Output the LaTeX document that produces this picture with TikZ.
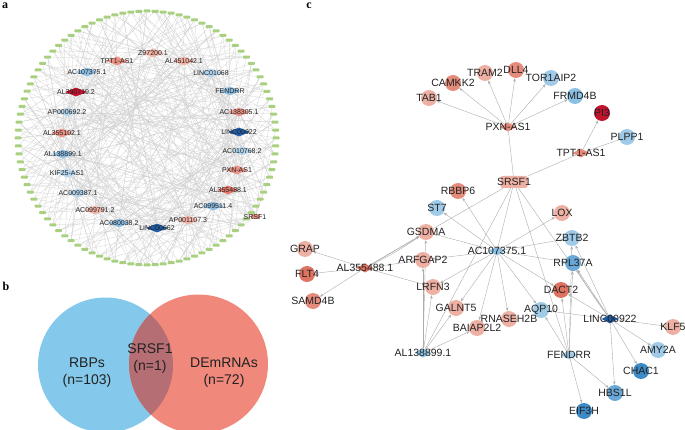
\documentclass[tikz,border=0pt]{standalone}
\usepackage{fontspec}
\setmainfont{Liberation Sans}
\newfontfamily\panelfont{Liberation Serif}
\usetikzlibrary{shapes.geometric,arrows.meta,backgrounds}
\definecolor{ringgreen}{HTML}{A8D080}
\definecolor{aSalL}{HTML}{F3B3A6}
\definecolor{aSal}{HTML}{EC9485}
\definecolor{aSalD}{HTML}{E57A68}
\definecolor{aRed}{HTML}{C8102E}
\definecolor{aBlueL}{HTML}{B3D5EE}
\definecolor{aBlue}{HTML}{8DBFE4}
\definecolor{aBlueD}{HTML}{1F5DA8}
\definecolor{vblue}{HTML}{84C9EB}
\definecolor{vred}{HTML}{F0887C}
\definecolor{vmix}{HTML}{B56E73}
\definecolor{cSalL}{HTML}{EFB0A4}
\definecolor{cSal}{HTML}{E58B7B}
\definecolor{cSalD}{HTML}{DF7361}
\definecolor{cRed}{HTML}{C0132C}
\definecolor{cBlueL}{HTML}{A0CBE8}
\definecolor{cBlue}{HTML}{8CC0E4}
\definecolor{cBlueM}{HTML}{69A8D7}
\definecolor{cBlueN}{HTML}{3E8AC4}
\definecolor{cBlueD}{HTML}{1E5AA0}
\definecolor{txt}{HTML}{222222}
\begin{document}
\begin{tikzpicture}[x=1pt,y=-1pt,
  ring/.style={rectangle, rounded corners=0.8pt, fill=ringgreen, minimum width=7pt, minimum height=3pt, inner sep=0pt},
  adia/.style={diamond, inner sep=0pt, minimum width=22pt, minimum height=9pt},
  alab/.style={font=\fontsize{7}{8}\selectfont, text=txt, inner sep=0pt},
  aedge/.style={draw=gray!38, line width=0.25pt},
  cnode/.style={circle, inner sep=0pt, minimum size=16pt},
  cdia/.style={diamond, inner sep=0pt, minimum width=17pt, minimum height=9pt},
  clab/.style={font=\fontsize{10.5}{12}\selectfont, text=txt, inner sep=0pt},
  cline/.style={draw=gray!65, line width=0.4pt},
  cedge/.style={cline, -{Stealth[length=3.5pt,width=2.6pt]}},
  vlab/.style={font=\fontsize{14}{17}\selectfont, text=txt, align=center, inner sep=0pt},
  panel/.style={font=\panelfont\bfseries\fontsize{12}{12}\selectfont, inner sep=0pt}
]
\useasboundingbox (0,0) rectangle (685,430);

% ---------------- panel a ----------------
\node[panel] (pa) at (5,6) {a};
\foreach \i in {1,...,100}{
  \node[ring] (o\i) at ({147+129*cos(3.6*\i)},{138+127*sin(3.6*\i)}) {};
}
\foreach [count=\c] \x/\y/\col/\txt in {
  117/61/aSal/TPT1-AS1, 153/53/aSalL/Z97200.1, 184/61/aSalL/AL451042.1,
  211/73/aBlueL/LINC01068, 230/91/aBlue/FENDRR, 239/112/aSal/AC138305.1,
  239/132/aBlueD/LINC00922, 242/151/aBlueL/AC010768.2, 237/170/aSal/PXN-AS1,
  228/190/aSalD/AL355488.1, 213/206/aBlue/AC099511.4, 188/220/aSalL/AP001107.3,
  157/228/aBlueD/LINC00662, 119/223/aBlue/AC080038.2, 95/210/aSalL/AC099791.2,
  78/193/aBlueL/AC009387.1, 67/173/aBlueL/KIF25-AS1, 63/154/aBlue/AL138899.1,
  62/133/aSal/AL355102.1, 67/112/aBlueL/AP000692.2, 76/92/aRed/AL390719.2,
  87/72/aBlue/AC107375.1}{
  \node[adia, fill=\col] (n\c) at (\x,\y) {};
  \node[alab] (nl\c) at (\x,\y) {\txt};
}
\node[rectangle, fill=aSal, minimum width=9pt, minimum height=5pt, inner sep=0pt] (n23) at (255,217) {};
\node[alab] (nl23) at (255,217) {SRSF1};
\begin{scope}[on background layer]
  \foreach \i in {1,...,100}{
    \foreach \k in {0,1,2,3}{
      \pgfmathtruncatemacro{\j}{mod(\i*7+\k*8+3*\k*\k+\k*\i,23)+1}
      \draw[aedge] (o\i) -- (n\j);
    }
  }
  \foreach \p/\q in {1/9,1/13,22/7,22/11,5/18,5/14,21/6,21/10,19/4,20/8,2/16,3/15,12/1,17/3}{
    \draw[aedge] (n\p) -- (n\q);
  }
\end{scope}

% ---------------- panel b ----------------
\node[panel] (pb) at (6,286) {b};
\node[circle, fill=vblue, minimum size=135pt, inner sep=0pt] (rbp) at (105.5,365) {};
\node[circle, fill=vred, minimum size=139pt, inner sep=0pt] (dem) at (198.5,364) {};
\begin{scope}
  \clip (105.5,365) circle[radius=67.5];
  \fill[vmix] (198.5,364) circle[radius=69.5];
\end{scope}
\node[vlab] (vl1) at (87,373) {RBPs\\(n=103)};
\node[vlab] (vl2) at (150,359) {SRSF1\\(n=1)};
\node[vlab] (vl3) at (224,373) {DEmRNAs\\(n=72)};

% ---------------- panel c ----------------
\node[panel] (pc) at (309,6) {c};
\foreach \nm/\x/\y/\col/\txt in {
  tab1/429/98/cSalL/TAB1, camkk2/453/83/cSal/CAMKK2, tram2/485/73/cSalL/TRAM2,
  dll4/516/70/cSal/DLL4, tor1aip2/551/78/cBlueL/TOR1AIP2, frmd4b/575/96/cBlue/FRMD4B,
  pi3/602/113/cRed/PI3, plpp1/627/137/cBlueL/PLPP1, rbbp6/458/191/cSal/RBBP6,
  st7/437/208/cBlueL/ST7, lox/562/213/cSalL/LOX, gsdma/426/232/cSalL/GSDMA,
  zbtb2/572/238/cBlueL/ZBTB2, grap/305/249/cSalL/GRAP, arfgap2/423/260/cSalL/ARFGAP2,
  rpl37a/573/263/cBlueM/RPL37A, flt4/307/274/cSalD/FLT4, lrfn3/433/287/cSalL/LRFN3,
  dact2/561/290/cSalD/DACT2, samd4b/313/301/cSal/SAMD4B, galnt5/456/308/cSalL/GALNT5,
  aqp10/541/310/cBlueL/AQP10, rnaseh2b/509/319/cSalL/RNASEH2B, klf5/673/327/cSalL/KLF5,
  baiap2l2/477/328/cSalL/BAIAP2L2, amy2a/658/350/cBlueL/AMY2A, chac1/641/371/cBlueN/CHAC1,
  hbs1l/615/393/cBlueM/HBS1L, eif3h/584/411/cBlueN/EIF3H}{
  \node[cnode, fill=\col] (\nm) at (\x,\y) {};
  \node[clab] (\nm-l) at (\x,\y) {\txt};
}
\foreach \nm/\x/\y/\col/\txt in {
  pxn/508/127/cSal/PXN-AS1, tpt/581/153/cSal/TPT1-AS1, ac107/497/251/cBlue/AC107375.1,
  al3554/365/268/cSalD/AL355488.1, al1388/423/353/cBlue/AL138899.1,
  fendrr/569/355/cBlueL/FENDRR, linc922/610/319/cBlueD/LINC00922}{
  \node[cdia, fill=\col] (\nm) at (\x,\y) {};
  \node[clab] (\nm-l) at (\x,\y) {\txt};
}
\node[rectangle, rounded corners=2pt, fill=cSalL, minimum width=27pt, minimum height=12pt, inner sep=0pt] (srsf1) at (514,182) {};
\node[clab] (srsf1-l) at (514,182) {SRSF1};

\begin{scope}[on background layer]
  \foreach \t in {tab1,camkk2,tram2,dll4,tor1aip2,frmd4b}{\draw[cedge] (pxn) -- (\t);}
  \draw[cedge] (tpt) -- (pi3);
  \draw[cline] (tpt) -- (plpp1);
  \foreach \t in {pxn,tpt,al3554,ac107,al1388,fendrr,linc922}{\draw[cline] (srsf1) -- (\t);}
  \foreach \t in {rbbp6,st7,gsdma,arfgap2,lrfn3,galnt5,baiap2l2,rnaseh2b,aqp10,dact2,rpl37a,zbtb2,lox}{\draw[cedge] (ac107) -- (\t);}
  \foreach \t in {grap,flt4,samd4b,gsdma,lrfn3,arfgap2}{\draw[cedge] (al3554) -- (\t);}
  \draw[cedge] (al3554) to[bend right=4] (gsdma);
  \foreach \t in {arfgap2,lrfn3,galnt5,baiap2l2,gsdma}{\draw[cedge] (al1388) -- (\t);}
  \foreach \t in {aqp10,dact2,rpl37a,zbtb2,hbs1l,eif3h}{\draw[cedge] (fendrr) -- (\t);}
  \foreach \t in {zbtb2,rpl37a,dact2,aqp10,klf5,amy2a,chac1,hbs1l}{\draw[cedge] (linc922) -- (\t);}
  \draw[cedge] (linc922) to[bend left=3] (rpl37a);
\end{scope}
\end{tikzpicture}
\end{document}
